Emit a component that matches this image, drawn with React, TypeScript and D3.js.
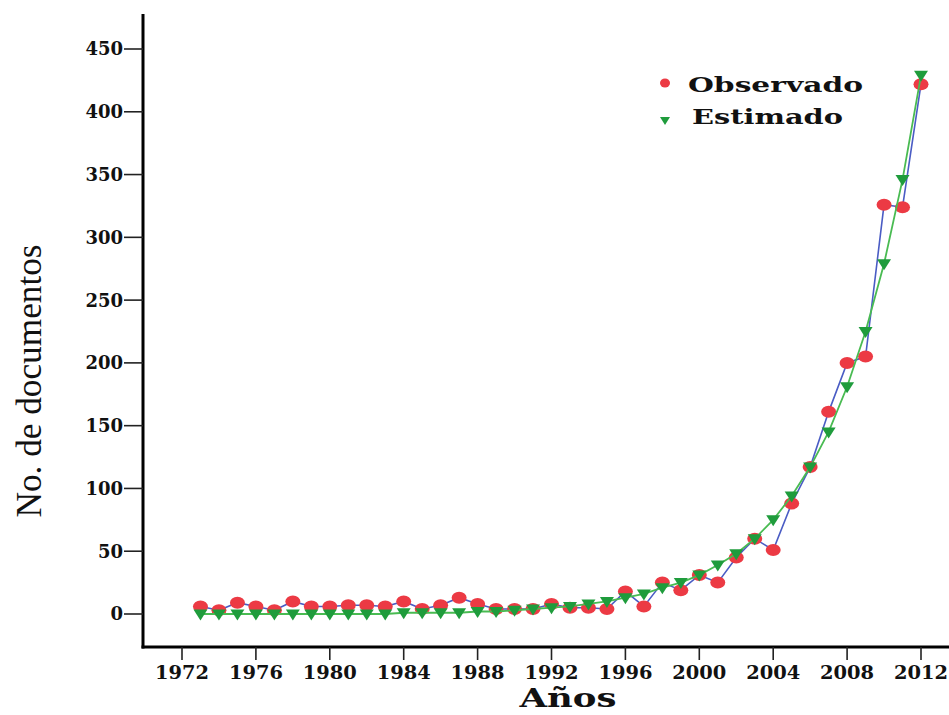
import * as d3 from 'd3'

const years = [
  1973, 1974, 1975, 1976, 1977, 1978, 1979, 1980, 1981, 1982,
  1983, 1984, 1985, 1986, 1987, 1988, 1989, 1990, 1991, 1992,
  1993, 1994, 1995, 1996, 1997, 1998, 1999, 2000, 2001, 2002,
  2003, 2004, 2005, 2006, 2007, 2008, 2009, 2010, 2011, 2012,
]
const observado = [
  6, 3, 9, 6, 3, 10, 6, 6, 7, 7,
  6, 10, 4, 7, 13, 8, 4, 4, 4, 8,
  5, 5, 4, 18, 6, 25, 19, 31, 25, 45,
  60, 51, 88, 117, 161, 200, 205, 326, 324, 422,
]
const estimado = [
  0, 0, 0, 0, 0, 0, 0, 0, 0, 0,
  0, 1, 1, 1, 1, 2, 2, 3, 4, 5,
  6, 8, 10, 13, 16, 21, 25, 31, 39, 48,
  60, 75, 94, 117, 145, 181, 225, 279, 346, 429,
]
const yTicks = [0, 50, 100, 150, 200, 250, 300, 350, 400, 450]
const xTicks = [1972, 1976, 1980, 1984, 1988, 1992, 1996, 2000, 2004, 2008, 2012]

const W = 949
const H = 715
const axisX = 143
const axisY = 647
const axisTop = 14

const boldFont = '"DejaVu Serif", serif'

export default function App() {
  const x = d3.scaleLinear().domain([1972, 2012]).range([182, 921])
  const y = d3.scaleLinear().domain([0, 450]).range([614, 49])

  const obsPts = years.map((yr, i) => [x(yr), y(observado[i])] as [number, number])
  const estPts = years.map((yr, i) => [x(yr), y(estimado[i])] as [number, number])
  const line = d3.line()

  // downward triangle centred on the point
  const tri = (cx: number, cy: number, w: number, h: number) =>
    `M${cx - w / 2},${cy - h / 2}L${cx + w / 2},${cy - h / 2}L${cx},${cy + h / 2}Z`

  return (
    <svg
      width={W}
      height={H}
      style={{ position: 'absolute', left: 0, top: 0, background: '#fff' }}
    >
      {/* axes */}
      <line x1={axisX} x2={axisX} y1={axisTop} y2={axisY + 1.5} stroke="#000" strokeWidth={3} />
      <line x1={axisX - 1.5} x2={W} y1={axisY} y2={axisY} stroke="#000" strokeWidth={3} />

      {yTicks.map(t => (
        <g key={t}>
          <line x1={axisX - 19} x2={axisX} y1={y(t)} y2={y(t)} stroke="#222" strokeWidth={1.6} />
          <text
            x={axisX - 20}
            y={y(t)}
            dy="0.36em"
            textAnchor="end"
            fontFamily={boldFont}
            fontWeight="bold"
            fontSize={18}
            fill="#111"
          >
            {t}
          </text>
        </g>
      ))}

      {xTicks.map(t => (
        <g key={t}>
          <line x1={x(t)} x2={x(t)} y1={axisY} y2={axisY + 13} stroke="#222" strokeWidth={1.6} />
          <text
            x={x(t)}
            y={679}
            textAnchor="middle"
            fontFamily={boldFont}
            fontWeight="bold"
            fontSize={18}
            fill="#111"
            textLength={54}
            lengthAdjust="spacingAndGlyphs"
          >
            {t}
          </text>
        </g>
      ))}

      {/* axis titles */}
      <text
        x={568}
        y={707}
        textAnchor="middle"
        fontFamily={boldFont}
        fontWeight="bold"
        fontSize={26}
        fill="#111"
        textLength={97}
        lengthAdjust="spacingAndGlyphs"
      >
        Años
      </text>
      <text
        transform={`translate(41,381) rotate(-90)`}
        textAnchor="middle"
        fontFamily='"Liberation Serif", serif'
        fontSize={36}
        fill="#111"
        textLength={273}
        lengthAdjust="spacingAndGlyphs"
      >
        No. de documentos
      </text>

      {/* series */}
      <path d={line(obsPts) ?? ''} fill="none" stroke="#4a5cc4" strokeWidth={1.6} />
      {obsPts.map(([px, py], i) => (
        <ellipse key={i} cx={px} cy={py} rx={7.5} ry={6} fill="#ec3a44" />
      ))}
      <path d={line(estPts) ?? ''} fill="none" stroke="#49bb52" strokeWidth={1.8} />
      {estPts.map(([px, py], i) => (
        <path key={i} d={tri(px, py + 1, 14, 11)} fill="#1f9c3c" />
      ))}

      {/* legend */}
      <ellipse cx={665} cy={83} rx={5} ry={4.5} fill="#ec3a44" />
      <text
        x={688}
        y={92}
        fontFamily={boldFont}
        fontWeight="bold"
        fontSize={21}
        fill="#111"
        textLength={175}
        lengthAdjust="spacingAndGlyphs"
      >
        Observado
      </text>
      <path d={tri(665, 121, 10, 8)} fill="#1f9c3c" />
      <text
        x={692}
        y={124}
        fontFamily={boldFont}
        fontWeight="bold"
        fontSize={21}
        fill="#111"
        textLength={151}
        lengthAdjust="spacingAndGlyphs"
      >
        Estimado
      </text>
    </svg>
  )
}
